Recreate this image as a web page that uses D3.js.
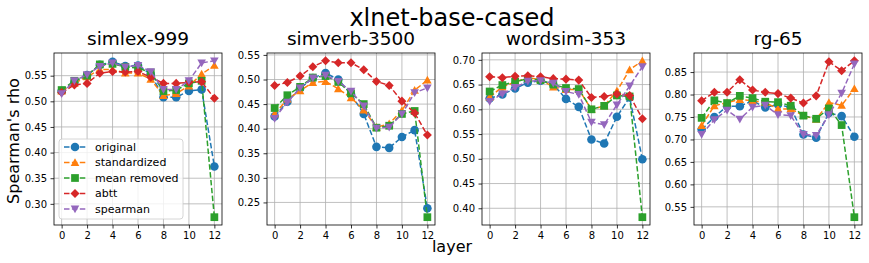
<!DOCTYPE html>
<html>
<head>
<meta charset="utf-8">
<script src="https://cdn.jsdelivr.net/npm/d3@7"></script>
<style>
  body { margin: 0; background: #fff; }
  text { font-family: "DejaVu Sans", sans-serif; }
</style>
</head>
<body>
<div id="chart"></div>
<script>
const layers = [0, 1, 2, 3, 4, 5, 6, 7, 8, 9, 10, 11, 12]
const xTicks = [0, 2, 4, 6, 8, 10, 12]
const methods = ["original", "standardized", "mean removed", "abtt", "spearman"]
const datasetNames = ["simlex-999", "simverb-3500", "wordsim-353", "rg-65"]

// simlex-999
const simlexOriginal = [0.520, 0.537, 0.551, 0.571, 0.577, 0.569, 0.570, 0.553, 0.508, 0.508, 0.520, 0.523, 0.373]
const simlexStandardized = [0.520, 0.535, 0.548, 0.562, 0.562, 0.555, 0.555, 0.543, 0.511, 0.515, 0.530, 0.553, 0.570]
const simlexMeanRemoved = [0.522, 0.540, 0.550, 0.572, 0.573, 0.567, 0.565, 0.556, 0.520, 0.522, 0.535, 0.540, 0.274]
const simlexAbtt = [0.517, 0.532, 0.535, 0.555, 0.558, 0.557, 0.558, 0.547, 0.535, 0.535, 0.537, 0.538, 0.506]
const simlexSpearman = [0.515, 0.540, 0.552, 0.568, 0.575, 0.567, 0.570, 0.558, 0.523, 0.523, 0.540, 0.575, 0.579]
const simlexTicks = [0.30, 0.35, 0.40, 0.45, 0.50, 0.55]

// simverb-3500
const simverbOriginal = [0.425, 0.455, 0.482, 0.503, 0.513, 0.500, 0.470, 0.430, 0.363, 0.361, 0.383, 0.397, 0.238]
const simverbStandardized = [0.430, 0.460, 0.477, 0.494, 0.496, 0.481, 0.463, 0.438, 0.403, 0.410, 0.437, 0.478, 0.499]
const simverbMeanRemoved = [0.442, 0.468, 0.485, 0.504, 0.507, 0.495, 0.472, 0.450, 0.402, 0.406, 0.430, 0.436, 0.220]
const simverbAbtt = [0.488, 0.494, 0.507, 0.526, 0.538, 0.534, 0.534, 0.520, 0.496, 0.488, 0.456, 0.432, 0.387]
const simverbSpearman = [0.421, 0.454, 0.483, 0.503, 0.509, 0.496, 0.476, 0.446, 0.401, 0.403, 0.430, 0.473, 0.483]
const simverbTicks = [0.25, 0.30, 0.35, 0.40, 0.45, 0.50, 0.55]

// wordsim-353
const wordsimOriginal = [0.622, 0.630, 0.642, 0.654, 0.658, 0.650, 0.621, 0.605, 0.539, 0.531, 0.585, 0.624, 0.499]
const wordsimStandardized = [0.625, 0.645, 0.655, 0.664, 0.660, 0.645, 0.640, 0.640, 0.600, 0.607, 0.637, 0.680, 0.698]
const wordsimMeanRemoved = [0.636, 0.649, 0.656, 0.662, 0.659, 0.650, 0.643, 0.641, 0.600, 0.607, 0.628, 0.626, 0.382]
const wordsimAbtt = [0.666, 0.664, 0.667, 0.668, 0.666, 0.662, 0.661, 0.659, 0.624, 0.626, 0.631, 0.628, 0.581]
const wordsimSpearman = [0.616, 0.631, 0.644, 0.657, 0.658, 0.653, 0.636, 0.630, 0.574, 0.569, 0.609, 0.647, 0.686]
const wordsimTicks = [0.40, 0.45, 0.50, 0.55, 0.60, 0.65, 0.70]

// rg-65
const rgOriginal = [0.722, 0.750, 0.774, 0.774, 0.786, 0.771, 0.778, 0.771, 0.711, 0.704, 0.759, 0.752, 0.706]
const rgStandardized = [0.731, 0.775, 0.782, 0.789, 0.786, 0.782, 0.768, 0.768, 0.753, 0.745, 0.782, 0.776, 0.813]
const rgMeanRemoved = [0.748, 0.787, 0.781, 0.797, 0.792, 0.784, 0.783, 0.775, 0.753, 0.746, 0.769, 0.732, 0.527]
const rgAbtt = [0.786, 0.805, 0.805, 0.833, 0.810, 0.805, 0.802, 0.792, 0.781, 0.797, 0.873, 0.853, 0.875]
const rgSpearman = [0.711, 0.744, 0.765, 0.745, 0.772, 0.776, 0.755, 0.753, 0.711, 0.709, 0.755, 0.803, 0.868]
const rgTicks = [0.55, 0.60, 0.65, 0.70, 0.75, 0.80, 0.85]

const panels = [
  { title: datasetNames[0], series: [simlexOriginal, simlexStandardized, simlexMeanRemoved, simlexAbtt, simlexSpearman], ticks: simlexTicks },
  { title: datasetNames[1], series: [simverbOriginal, simverbStandardized, simverbMeanRemoved, simverbAbtt, simverbSpearman], ticks: simverbTicks },
  { title: datasetNames[2], series: [wordsimOriginal, wordsimStandardized, wordsimMeanRemoved, wordsimAbtt, wordsimSpearman], ticks: wordsimTicks },
  { title: datasetNames[3], series: [rgOriginal, rgStandardized, rgMeanRemoved, rgAbtt, rgSpearman], ticks: rgTicks },
]

const colors = ["#1f77b4", "#ff7f0e", "#2ca02c", "#d62728", "#9467bd"]
const markers = ["circle", "triUp", "square", "diamond", "triDown"]

const dimensions = {
  width: 869,
  height: 263,
  panelLefts: [54, 267, 482, 694],
  panelWidth: 168,
  top: 53,
  bottom: 225,
}
const ctrHeight = dimensions.bottom - dimensions.top

function markerPath(type, s) {
  // s = half size in px
  if (type === "circle") return d3.symbol(d3.symbolCircle, Math.PI * s * s)()
  if (type === "square") return `M${-s * 0.9},${-s * 0.9}H${s * 0.9}V${s * 0.9}H${-s * 0.9}Z`
  if (type === "diamond") return `M0,${-s * 1.05}L${s * 1.05},0L0,${s * 1.05}L${-s * 1.05},0Z`
  if (type === "triUp") return `M0,${-s}L${s},${s * 0.8}L${-s},${s * 0.8}Z`
  if (type === "triDown") return `M0,${s}L${s},${-s * 0.8}L${-s},${-s * 0.8}Z`
}

const svg = d3
  .select("#chart")
  .append("svg")
  .attr("width", dimensions.width)
  .attr("height", dimensions.height)

svg.append("text")
  .attr("x", 452)
  .attr("y", 26)
  .attr("text-anchor", "middle")
  .attr("font-size", 24)
  .text("xlnet-base-cased")

panels.forEach((panel, pi) => {
  const all = panel.series.flat()
  const [lo, hi] = d3.extent(all)
  const pad = (hi - lo) * 0.05

  const xScale = d3.scaleLinear()
    .domain([-0.6, 12.6])
    .range([0, dimensions.panelWidth])

  const yScale = d3.scaleLinear()
    .domain([lo - pad, hi + pad])
    .range([ctrHeight, 0])

  const ctr = svg.append("g")
    .attr("transform", `translate(${dimensions.panelLefts[pi]}, ${dimensions.top})`)

  // grid
  ctr.append("g")
    .selectAll("line")
    .data(xTicks)
    .join("line")
    .attr("x1", d => xScale(d)).attr("x2", d => xScale(d))
    .attr("y1", 0).attr("y2", ctrHeight)
    .attr("stroke", "#b0b0b0").attr("stroke-width", 0.8)

  ctr.append("g")
    .selectAll("line")
    .data(panel.ticks)
    .join("line")
    .attr("x1", 0).attr("x2", dimensions.panelWidth)
    .attr("y1", d => yScale(d)).attr("y2", d => yScale(d))
    .attr("stroke", "#b0b0b0").attr("stroke-width", 0.8)

  // axes
  const xAxisGroup = ctr.append("g")
    .attr("transform", `translate(0, ${ctrHeight})`)
    .call(d3.axisBottom(xScale).tickValues(xTicks).tickSize(3.5).tickPadding(3.5).tickFormat(d3.format("d")))
  const yAxisGroup = ctr.append("g")
    .call(d3.axisLeft(yScale).tickValues(panel.ticks).tickSize(3.5).tickPadding(3.5).tickFormat(d3.format(".2f")))

  ;[xAxisGroup, yAxisGroup].forEach(g => {
    g.select(".domain").remove()
    g.selectAll(".tick line").attr("stroke", "#000").attr("stroke-width", 0.8)
    g.selectAll(".tick text")
      .attr("fill", "#000")
      .attr("font-size", 10)
      .attr("font-family", "DejaVu Sans, sans-serif")
  })

  // series
  panel.series.forEach((values, si) => {
    const line = d3.line()
      .x((d, i) => xScale(layers[i]))
      .y(d => yScale(d))

    const g = ctr.append("g")
    g.append("path")
      .datum(values)
      .attr("d", line)
      .attr("fill", "none")
      .attr("stroke", colors[si])
      .attr("stroke-width", 1.5)
      .attr("stroke-dasharray", "5.5,2.4")

    g.selectAll("path.mk")
      .data(values)
      .join("path")
      .attr("class", "mk")
      .attr("transform", (d, i) => `translate(${xScale(layers[i])}, ${yScale(d)})`)
      .attr("d", markerPath(markers[si], 4.3))
      .attr("fill", colors[si])
  })

  // frame
  ctr.append("rect")
    .attr("width", dimensions.panelWidth)
    .attr("height", ctrHeight)
    .attr("fill", "none")
    .attr("stroke", "#000")
    .attr("stroke-width", 0.8)

  ctr.append("text")
    .attr("x", dimensions.panelWidth / 2)
    .attr("y", -8)
    .attr("text-anchor", "middle")
    .attr("font-size", 18.5)
    .text(panel.title)

  if (pi === 0) {
    const legend = ctr.append("g").attr("transform", "translate(5, 86)")
    legend.append("rect")
      .attr("width", 124)
      .attr("height", 80)
      .attr("rx", 3)
      .attr("fill", "#fff")
      .attr("fill-opacity", 0.8)
      .attr("stroke", "#cccccc")
      .attr("stroke-width", 0.8)

    methods.forEach((m, si) => {
      const y = 8 + si * 15.5
      legend.append("line")
        .attr("x1", 5).attr("x2", 27)
        .attr("y1", y).attr("y2", y)
        .attr("stroke", colors[si])
        .attr("stroke-width", 1.5)
        .attr("stroke-dasharray", "5.5,2.4")
      legend.append("path")
        .attr("transform", `translate(16, ${y})`)
        .attr("d", markerPath(markers[si], 4.3))
        .attr("fill", colors[si])
      legend.append("text")
        .attr("x", 36)
        .attr("y", y)
        .attr("dy", "0.35em")
        .attr("font-size", 11)
        .text(m)
    })
  }
})

svg.append("text")
  .attr("transform", `translate(19, ${(dimensions.top + dimensions.bottom) / 2 + 2}) rotate(-90)`)
  .attr("text-anchor", "middle")
  .attr("font-size", 16)
  .text("Spearman's rho")

svg.append("text")
  .attr("x", 452)
  .attr("y", 252)
  .attr("text-anchor", "middle")
  .attr("font-size", 16)
  .text("layer")
</script>
</body>
</html>
